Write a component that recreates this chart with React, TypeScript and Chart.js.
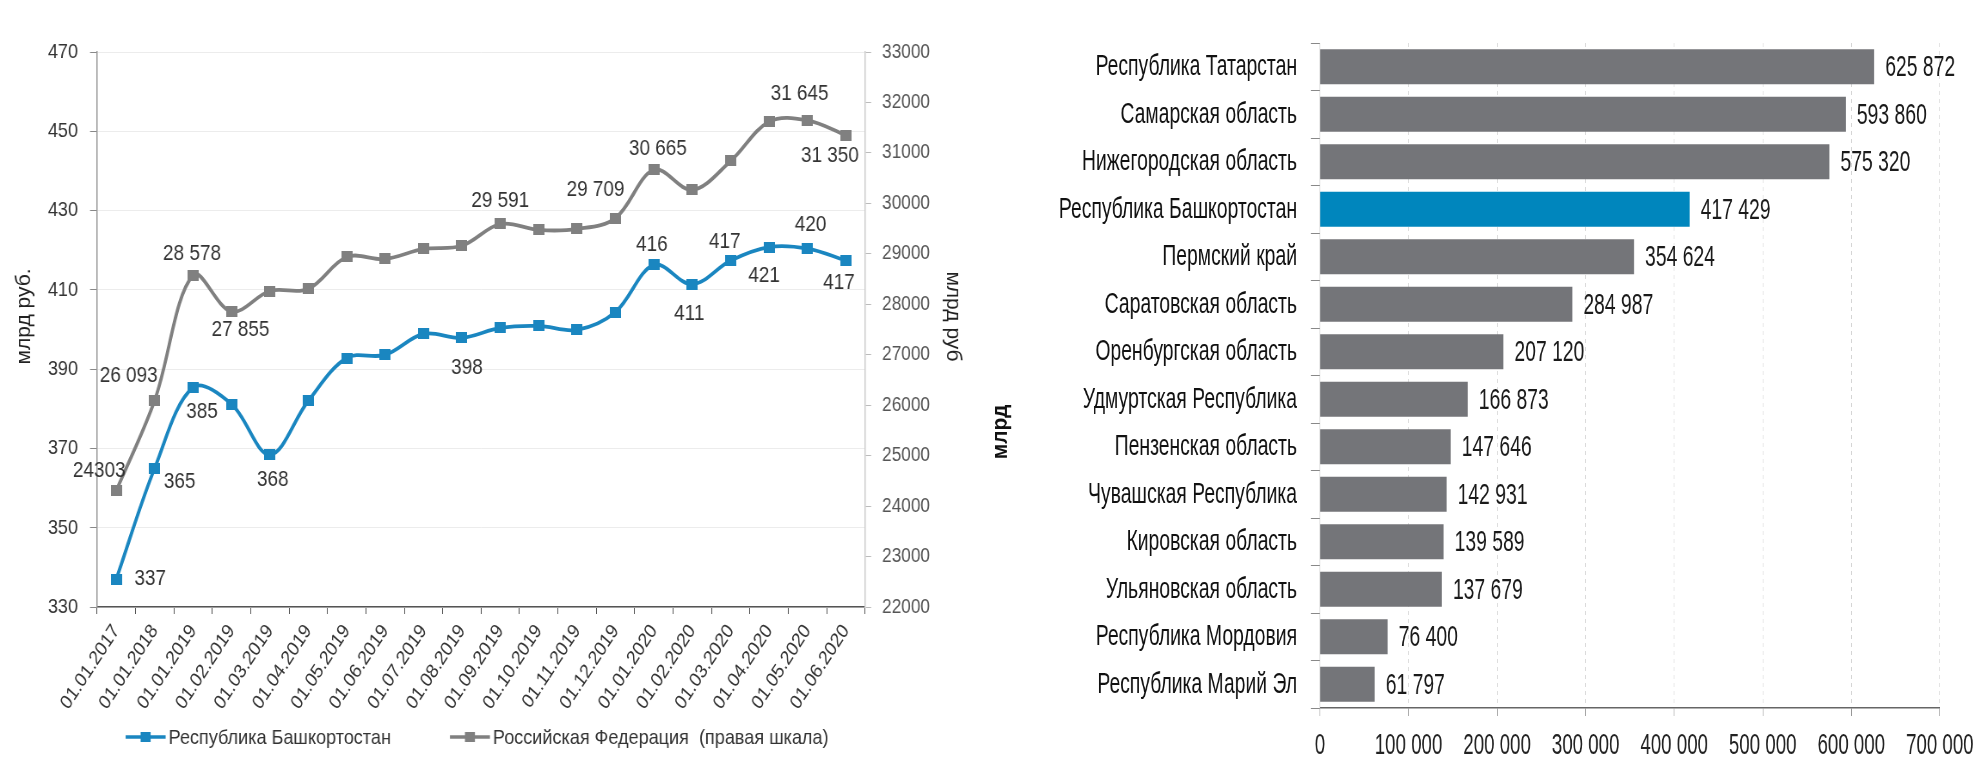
import React, { useEffect, useRef } from "react";
import { Chart, registerables } from "chart.js";

Chart.register(...registerables);

// ---------- Left chart data ----------
const dates = [
  "01.01.2017", "01.01.2018", "01.01.2019", "01.02.2019", "01.03.2019", "01.04.2019",
  "01.05.2019", "01.06.2019", "01.07.2019", "01.08.2019", "01.09.2019", "01.10.2019",
  "01.11.2019", "01.12.2019", "01.01.2020", "01.02.2020", "01.03.2020", "01.04.2020",
  "01.05.2020", "01.06.2020",
];
const bashValues = [
  337, 365, 385.4, 381.2, 368.4, 382, 392.8, 393.6, 398.9, 397.9,
  400.4, 400.9, 399.9, 404.4, 416.3, 411.4, 417.4, 420.8, 420.4, 417.4,
];
const rfValues = [
  24303, 26093, 28578, 27855, 28263, 28303, 28937, 28898, 29096, 29160,
  29591, 29473, 29493, 29709, 30665, 30266, 30840, 31620, 31645, 31350,
];
const leftTicks = { min: 330, max: 470, step: 20 };
const rightTicks = { min: 22000, max: 33000, step: 1000 };

// data-label placement (which points are labelled, and offsets in screen px)
const bashLabelIdx = [0, 1, 2, 4, 9, 14, 15, 16, 17, 18, 19];
const bashLabelDx = [34, 25, 9, 3, 5, -2, -3, -6, -5, 3, -7];
const bashLabelDy = [0, 14, 25, 25, 30, -20, 30, -19, 29, -24, 22];
const rfLabelIdx = [0, 1, 2, 3, 10, 13, 14, 18, 19];
const rfLabelDx = [-17, -26, -1, 9, 0, -20, 4, -8, -16];
const rfLabelDy = [-20, -25, -21, 18, -23, -28, -21, -26, 21];
const rfLabelPlain = [true, false, false, false, false, false, false, false, false];

// ---------- Right chart data ----------
const regions = [
  "Республика Татарстан", "Самарская область", "Нижегородская область",
  "Республика Башкортостан", "Пермский край", "Саратовская область",
  "Оренбургская область", "Удмуртская Республика", "Пензенская область",
  "Чувашская Республика", "Кировская область", "Ульяновская область",
  "Республика Мордовия", "Республика Марий Эл",
];
const regionValues = [
  625872, 593860, 575320, 417429, 354624, 284987, 207120,
  166873, 147646, 142931, 139589, 137679, 76400, 61797,
];
const highlightRegion = "Республика Башкортостан";
const barAxis = { min: 0, max: 700000, step: 100000 };

// ---------- styles ----------
const SANS = "'Liberation Sans', Arial, sans-serif";
const BLUE = "#1a86c0";
const GREY = "#808080";
const BAR_GREY = "#747579";
const BAR_BLUE = "#0086bd";
const KL = 0.86; // horizontal compression of left chart text
const KR = 0.645; // horizontal compression of right chart text

const fmtSpace = (v: number) =>
  String(Math.round(v)).replace(/\B(?=(\d{3})+(?!\d))/g, " ");

function makeMarker(color: string, k: number) {
  const h = 11;
  const w = Math.round(h / k);
  const c = document.createElement("canvas");
  c.width = w;
  c.height = h;
  const g = c.getContext("2d")!;
  g.fillStyle = color;
  g.fillRect(0, 0, w, h);
  return c;
}

const lineLabelsPlugin = {
  id: "lineLabels",
  afterDatasetsDraw(chart: any) {
    const ctx = chart.ctx;
    ctx.save();
    ctx.font = `22px ${SANS}`;
    ctx.fillStyle = "#333";
    ctx.textAlign = "center";
    ctx.textBaseline = "middle";
    const m0 = chart.getDatasetMeta(0).data;
    bashLabelIdx.forEach((idx, k) => {
      const el = m0[idx];
      ctx.fillText(fmtSpace(bashValues[idx]), el.x + bashLabelDx[k] / KL, el.y + bashLabelDy[k]);
    });
    const m1 = chart.getDatasetMeta(1).data;
    rfLabelIdx.forEach((idx, k) => {
      const el = m1[idx];
      const t = rfLabelPlain[k] ? String(rfValues[idx]) : fmtSpace(rfValues[idx]);
      ctx.fillText(t, el.x + rfLabelDx[k] / KL, el.y + rfLabelDy[k]);
    });
    ctx.restore();
  },
};

const leftDecorPlugin = {
  id: "leftDecor",
  afterDraw(chart: any) {
    const { ctx, chartArea } = chart;
    const cy = (chartArea.top + chartArea.bottom) / 2 - 13;
    // axis titles
    ctx.save();
    ctx.font = `21px ${SANS}`;
    ctx.fillStyle = "#222";
    ctx.textAlign = "center";
    ctx.textBaseline = "middle";
    ctx.save();
    ctx.translate(chartArea.left - 73 / KL, cy);
    ctx.scale(1 / KL, 1);
    ctx.rotate(-Math.PI / 2);
    ctx.fillText("млрд руб.", 0, 0);
    ctx.restore();
    ctx.save();
    ctx.translate(chartArea.right + 88 / KL, cy);
    ctx.scale(1 / KL, 1);
    ctx.rotate(Math.PI / 2);
    ctx.fillText("млрд руб", 0, 0);
    ctx.restore();
    ctx.restore();

    // legend
    ctx.save();
    ctx.font = `21px ${SANS}`;
    ctx.textAlign = "left";
    ctx.textBaseline = "middle";
    const iconW = 40 / KL;
    const gap = 3 / KL;
    const spacing = 59 / KL;
    const items = chart.data.datasets.map((ds: any) => ({ text: ds.label, color: ds.borderColor }));
    const widths = items.map((it: any) => iconW + gap + ctx.measureText(it.text).width);
    const total = widths.reduce((a: number, b: number) => a + b, 0) + spacing * (items.length - 1);
    let x = (chartArea.left + chartArea.right) / 2 - 4 / KL - total / 2;
    const y = chart.height - 23;
    items.forEach((it: any, i: number) => {
      ctx.strokeStyle = it.color;
      ctx.lineWidth = 3.5;
      ctx.beginPath();
      ctx.moveTo(x, y);
      ctx.lineTo(x + iconW, y);
      ctx.stroke();
      ctx.fillStyle = it.color;
      ctx.fillRect(x + iconW / 2 - 5 / KL, y - 5, 10 / KL, 10);
      ctx.fillStyle = "#333";
      ctx.fillText(it.text, x + iconW + gap, y + 1);
      x += widths[i] + spacing;
    });
    ctx.restore();
  },
};

const barDecorPlugin = {
  id: "barDecor",
  afterDatasetsDraw(chart: any) {
    const ctx = chart.ctx;
    ctx.save();
    ctx.font = `30px ${SANS}`;
    ctx.fillStyle = "#1a1a1a";
    ctx.textAlign = "left";
    ctx.textBaseline = "middle";
    chart.getDatasetMeta(0).data.forEach((bar: any, i: number) => {
      ctx.fillText(fmtSpace(regionValues[i]), bar.x + 11 / KR, bar.y + 1);
    });
    ctx.restore();
  },
  afterDraw(chart: any) {
    const { ctx, chartArea } = chart;
    ctx.save();
    ctx.font = `bold 21px ${SANS}`;
    ctx.fillStyle = "#111";
    ctx.textAlign = "center";
    ctx.textBaseline = "middle";
    ctx.translate(11 / KR, chartArea.top + (chartArea.bottom - chartArea.top) * 0.585);
    ctx.scale(1 / KR, 1);
    ctx.rotate(-Math.PI / 2);
    ctx.fillText("млрд", 0, 0);
    ctx.restore();
  },
};

function LineChart() {
  const ref = useRef<HTMLCanvasElement>(null);
  const displayW = 990;
  const internalW = Math.round(displayW / KL);
  useEffect(() => {
    const markers = [makeMarker(BLUE, KL), makeMarker(GREY, KL)];
    const chart = new Chart(ref.current!, {
      type: "line",
      data: {
        labels: dates,
        datasets: [
          {
            label: "Республика Башкортостан",
            data: bashValues,
            yAxisID: "y",
            borderColor: BLUE,
            backgroundColor: BLUE,
            borderWidth: 3.8,
            pointStyle: markers[0],
            pointRadius: 6,
            tension: 0.35,
          },
          {
            label: "Российская Федерация  (правая шкала)",
            data: rfValues,
            yAxisID: "y1",
            borderColor: GREY,
            backgroundColor: GREY,
            borderWidth: 3.8,
            pointStyle: markers[1],
            pointRadius: 6,
            tension: 0.35,
          },
        ],
      },
      options: {
        responsive: false,
        animation: false,
        devicePixelRatio: 1,
        layout: { padding: { top: 52, left: 0, right: 0, bottom: 42 } },
        plugins: {
          tooltip: { enabled: false },
          legend: { display: false },
        },
        scales: {
          x: {
            offset: true,
            grid: { offset: true, drawOnChartArea: false, drawTicks: true, tickLength: 7, tickColor: "#555" },
            border: { color: "#555", width: 1.5 },
            ticks: {
              autoSkip: false,
              minRotation: 53,
              maxRotation: 53,
              padding: 6,
              color: "#333",
              font: { family: SANS, size: 20 },
            },
            afterFit: (s: any) => { s.height = 111; },
          },
          y: {
            position: "left",
            min: leftTicks.min,
            max: leftTicks.max,
            ticks: {
              stepSize: leftTicks.step,
              padding: 12 / KL,
              color: "#333",
              font: { family: SANS, size: 21 },
            },
            grid: { color: "#ececec", tickColor: "#888", tickLength: 7 / KL },
            border: { color: "#999", width: 1.5 },
            afterFit: (s: any) => { s.width = 97 / KL; },
          },
          y1: {
            position: "right",
            min: rightTicks.min,
            max: rightTicks.max,
            ticks: {
              stepSize: rightTicks.step,
              padding: 11 / KL,
              color: "#555",
              font: { family: SANS, size: 20 },
              callback: (v: any) => String(v),
            },
            grid: { drawOnChartArea: false, tickColor: "#bbb", tickLength: 6 / KL },
            border: { color: "#ccc", width: 1.5 },
            afterFit: (s: any) => { s.width = internalW - 865 / KL; },
          },
        },
      } as any,
      plugins: [lineLabelsPlugin, leftDecorPlugin],
    });
    return () => chart.destroy();
  }, []);
  return (
    <canvas
      ref={ref}
      width={internalW}
      height={760}
      style={{ position: "absolute", left: 0, top: 0, width: displayW, height: 760 }}
    />
  );
}

function BarChart() {
  const ref = useRef<HTMLCanvasElement>(null);
  const displayW = 992;
  const internalW = Math.round(displayW / KR);
  useEffect(() => {
    const chart = new Chart(ref.current!, {
      type: "bar",
      data: {
        labels: regions,
        datasets: [
          {
            data: regionValues,
            backgroundColor: regions.map((r) => (r === highlightRegion ? BAR_BLUE : BAR_GREY)),
            barPercentage: 0.74,
            categoryPercentage: 1,
          },
        ],
      },
      options: {
        indexAxis: "y",
        responsive: false,
        animation: false,
        devicePixelRatio: 1,
        layout: { padding: { top: 43, left: 0, right: internalW - 953 / KR, bottom: 0 } },
        plugins: { legend: { display: false }, tooltip: { enabled: false } },
        scales: {
          x: {
            min: barAxis.min,
            max: barAxis.max,
            ticks: {
              stepSize: barAxis.step,
              padding: 13,
              color: "#222",
              font: { family: SANS, size: 29 },
              callback: (v: any) => fmtSpace(Number(v)),
            },
            grid: { color: "#cfcfcf", tickColor: "#888", tickLength: 8 },
            border: { color: "#666", width: 1.5, dash: [4, 4] },
            afterFit: (s: any) => { s.height = 52; },
          },
          y: {
            ticks: { padding: 14 / KR, color: "#111", font: { family: SANS, size: 30 } },
            grid: { drawOnChartArea: false, offset: true, tickLength: 9 / KR, tickColor: "#888" },
            border: { color: "#bbb", width: 1 },
            afterFit: (s: any) => { s.width = 330 / KR; },
          },
        },
      } as any,
      plugins: [barDecorPlugin],
    });
    return () => chart.destroy();
  }, []);
  return (
    <canvas
      ref={ref}
      width={internalW}
      height={760}
      style={{ position: "absolute", left: 990, top: 0, width: displayW, height: 760 }}
    />
  );
}

export default function App() {
  return (
    <div
      style={{
        position: "absolute",
        left: 0,
        top: 0,
        width: 1982,
        height: 760,
        background: "#fff",
        overflow: "hidden",
      }}
    >
      <LineChart />
      <BarChart />
    </div>
  );
}
